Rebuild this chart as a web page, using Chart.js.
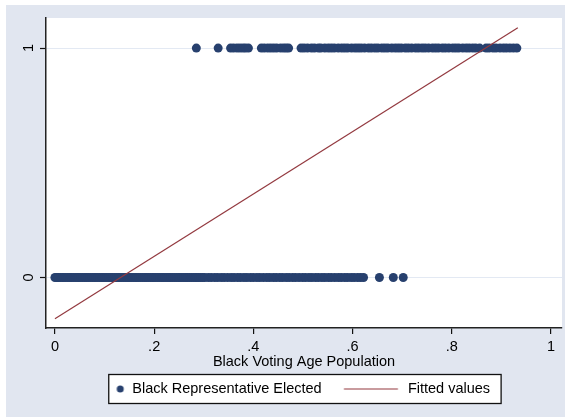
<!DOCTYPE html>
<html><head><meta charset="utf-8">
<style>html,body{margin:0;padding:0;background:#fff}canvas{display:block}</style>
<script src="https://cdn.jsdelivr.net/npm/chart.js@4.4.1/dist/chart.umd.min.js"></script>
</head><body>
<canvas id="c" width="567" height="417"></canvas>
<script>
// ---- data ----
const seriesNames = ["Black Representative Elected", "Fitted values"];
const xTitle = "Black Voting Age Population";
// x values of districts that elected a Black representative (y = 1)
const electedX = [0.285, 0.329,
  0.354, 0.360, 0.367, 0.373, 0.379, 0.384, 0.390,
  0.416, 0.422, 0.429, 0.435, 0.441, 0.447, 0.455, 0.461, 0.466, 0.471,
  0.496, 0.502, 0.509, 0.517, 0.523, 0.531, 0.536, 0.544, 0.551, 0.557, 0.563, 0.571, 0.578,
  0.584, 0.590, 0.598, 0.605, 0.611, 0.617, 0.624, 0.632, 0.638, 0.645, 0.651, 0.659, 0.665,
  0.671, 0.679, 0.686, 0.692, 0.698, 0.706, 0.712, 0.719, 0.727, 0.733, 0.740, 0.746, 0.753,
  0.761, 0.767, 0.773, 0.781, 0.787, 0.794, 0.802, 0.808, 0.814, 0.822, 0.829, 0.835, 0.842,
  0.848, 0.856, 0.869, 0.875, 0.883, 0.889, 0.897, 0.904, 0.910, 0.917, 0.924, 0.931];
// x values of districts that did not (y = 0)
const notElectedX = [0.000, 0.004, 0.007, 0.011, 0.015, 0.018, 0.022, 0.026, 0.030, 0.033,
  0.037, 0.041, 0.045, 0.048, 0.052, 0.056, 0.060, 0.063, 0.067, 0.071, 0.075, 0.079, 0.082,
  0.086, 0.090, 0.094, 0.097, 0.101, 0.105, 0.109, 0.113, 0.116, 0.120, 0.124, 0.128, 0.131,
  0.135, 0.139, 0.143, 0.147, 0.150, 0.154, 0.158, 0.162, 0.165, 0.169, 0.173, 0.177, 0.181,
  0.184, 0.188, 0.192, 0.196, 0.199, 0.203, 0.207, 0.211, 0.215, 0.218, 0.222, 0.226, 0.230,
  0.233, 0.237, 0.241, 0.245, 0.249, 0.252, 0.256, 0.260, 0.264, 0.267, 0.271, 0.275, 0.279,
  0.283, 0.286, 0.290, 0.294, 0.298, 0.302,
  0.309, 0.315, 0.322, 0.328, 0.335, 0.341, 0.348, 0.355, 0.361, 0.368, 0.374, 0.381, 0.387,
  0.394, 0.400, 0.407, 0.413, 0.420, 0.427, 0.433, 0.440, 0.446, 0.453, 0.459, 0.466, 0.472,
  0.479, 0.485, 0.492, 0.499, 0.505, 0.512, 0.518, 0.525, 0.531, 0.538, 0.544, 0.551, 0.557,
  0.564, 0.571, 0.577, 0.584, 0.590, 0.597, 0.603, 0.610, 0.616, 0.622,
  0.654, 0.682, 0.702];
// fitted regression line end points
const fitX = [0, 0.933];
const fitY = [-0.18, 1.088];
const xTickValues = [0, 0.2, 0.4, 0.6, 0.8, 1];
const xTickLabels = ["0", ".2", ".4", ".6", ".8", "1"];
const yTickValues = [0, 1];
const yTickLabels = ["0", "1"];

// ---- styling ----
const FONT = {family: "'Liberation Sans', Arial, sans-serif", size: 14.5};
const NAVY = '#27406e', MAROON = '#93393f';
const BW = 71, HALF = FONT.size / 2, LPAD = 8;

function dotImg() {
  const off = BW / 2 - 4.75;
  const w = Math.ceil(2 * (off + 5));
  const c = document.createElement('canvas');
  c.width = w; c.height = 10;
  const g = c.getContext('2d');
  g.fillStyle = NAVY; g.beginPath(); g.arc(w / 2 + off, 5, 3.5, 0, Math.PI * 2); g.fill();
  return c;
}
function lineImg() {
  const s = BW / 2 + HALF - 64, e = BW / 2 + HALF - 10;
  const w = 2 * Math.ceil(Math.max(Math.abs(s), Math.abs(e)) + 1);
  const c = document.createElement('canvas');
  c.width = w; c.height = 4;
  const g = c.getContext('2d');
  g.strokeStyle = MAROON; g.lineWidth = 1.2;
  g.beginPath(); g.moveTo(w / 2 + s, 2); g.lineTo(w / 2 + e, 2); g.stroke();
  return c;
}
const DOT = dotImg(), LINE = lineImg();

const bgPlugin = {
  id: 'bg',
  beforeDraw(chart) {
    const {ctx, chartArea: a} = chart;
    ctx.save();
    ctx.fillStyle = '#fff'; ctx.fillRect(0, 0, chart.width, chart.height);
    ctx.fillStyle = '#e1e6f0'; ctx.fillRect(6, 5, chart.width - 8, chart.height - 5);
    ctx.fillStyle = '#fff'; ctx.fillRect(a.left, a.top, a.right - a.left, a.bottom - a.top);
    const hb = chart.legend && chart.legend.legendHitBoxes;
    if (hb && hb.length === 2) {
      const l = hb[0].left + BW + HALF - 23.5;
      const r = hb[1].left + hb[1].width + 11;
      const cy = hb[0].top + hb[0].height / 2;
      ctx.fillStyle = '#fff'; ctx.fillRect(l, cy - 14.5, r - l, 29);
      ctx.strokeStyle = '#111'; ctx.lineWidth = 1.3; ctx.strokeRect(l, cy - 14.5, r - l, 29);
    }
    ctx.restore();
  }
};

new Chart(document.getElementById('c'), {
  data: {
    datasets: [
      {
        type: 'scatter', label: seriesNames[0],
        data: notElectedX.map(x => ({x: x, y: 0})).concat(electedX.map(x => ({x: x, y: 1}))),
        backgroundColor: NAVY, borderWidth: 0, pointRadius: 4.5, pointHoverRadius: 4.5, order: 2
      },
      {
        type: 'line', label: seriesNames[1],
        data: fitX.map((x, i) => ({x: x, y: fitY[i]})),
        borderColor: MAROON, backgroundColor: MAROON, borderWidth: 1.2, pointRadius: 0,
        fill: false, tension: 0, order: 1
      }
    ]
  },
  options: {
    responsive: false, animation: false, events: [],
    layout: {padding: {left: 6, right: 5, top: 18, bottom: 10.75}},
    scales: {
      x: {
        type: 'linear', min: -0.018, max: 1.022,
        afterBuildTicks: s => { s.ticks = xTickValues.map(v => ({value: v})); },
        afterFit: s => { s.height = 45.75; },
        ticks: {callback: (v, i) => xTickLabels[i], font: FONT, color: '#000', padding: 4, maxRotation: 0, autoSkip: false},
        grid: {drawOnChartArea: false, tickLength: 6, tickColor: '#111', lineWidth: 1.2},
        border: {color: '#222', width: 1.5},
        title: {display: true, text: xTitle, font: FONT, color: '#000', padding: {top: 0, bottom: 3}}
      },
      y: {
        type: 'linear', min: -0.22, max: 1.131,
        afterBuildTicks: s => { s.ticks = yTickValues.map(v => ({value: v})); },
        afterFit: s => { s.width = 40; },
        ticks: {callback: (v, i) => yTickLabels[i], font: FONT, color: '#000', minRotation: 90, maxRotation: 90, crossAlign: 'center', padding: 7, autoSkip: false},
        grid: {color: '#e3e9f3', lineWidth: 1, tickLength: 6, tickColor: '#111', tickWidth: 1.2},
        border: {color: '#222', width: 1.5}
      }
    },
    plugins: {
      legend: {
        position: 'bottom', align: 'start', fullSize: false,
        labels: {
          usePointStyle: true, pointStyleWidth: BW, font: FONT, color: '#000', padding: LPAD,
          sort: (a, b) => a.datasetIndex - b.datasetIndex,
          generateLabels: chart => {
            const items = Chart.defaults.plugins.legend.labels.generateLabels(chart);
            items.forEach(it => { it.pointStyle = it.datasetIndex === 0 ? DOT : LINE; });
            return items;
          }
        }
      },
      tooltip: {enabled: false}
    }
  },
  plugins: [bgPlugin]
});
</script>
</body></html>
